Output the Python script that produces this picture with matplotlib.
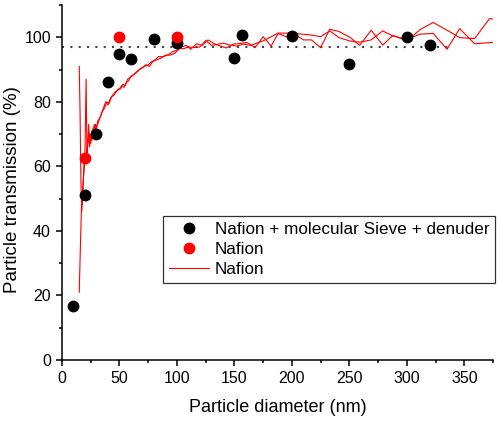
import matplotlib as mpl
mpl.use("Agg")

import matplotlib.pyplot as plt
from matplotlib.ticker import MultipleLocator

plt.rcParams["font.family"] = ["Liberation Sans", "DejaVu Sans"]

# sieve + denuder points (black)
sieve_x = [10, 20, 30, 40, 50, 60, 80, 100, 150, 157, 200, 250, 300, 320]
sieve_y = [16.7, 51.0, 70.0, 86.2, 94.7, 93.2, 99.4, 98.2, 93.7, 100.6, 100.4, 91.8, 100.1, 97.7]

# Nafion only points (red)
nafion_x = [20, 50, 100]
nafion_y = [62.5, 100.2, 100.2]

# Nafion scans (red lines)
scanA_x = [15, 15.7, 16.5, 17.2, 18, 19, 20, 21, 21.7, 22.5,
           23.2, 24, 25, 26, 27, 28, 29, 30, 32, 34,
           36, 38, 40, 42, 44, 46, 48, 50, 52, 54,
           56, 58, 60, 63, 66, 69, 72, 75, 78, 81,
           84, 88, 92, 96, 100, 104, 108, 112, 117, 122,
           127, 132, 137, 143, 149, 155, 161, 168, 175, 182,
           188, 197, 204, 210, 217, 225, 233, 241, 251, 259,
           269, 279, 288, 300, 312, 323, 335, 346, 359, 372, 376]
scanA_y = [91, 77, 55, 46, 50, 60, 65, 87, 63, 68,
           73, 66, 70, 68, 72, 69, 73, 72, 74, 76,
           78, 80, 79, 81, 82, 83, 83.5, 84, 85, 84.5,
           86, 86.5, 88, 88.5, 89.5, 90.5, 91, 91.5, 92.5, 93,
           94, 94, 94.5, 95.5, 96, 97, 97.5, 96.3, 98, 97.5,
           99.2, 98.1, 97.4, 96.7, 97.9, 98.1, 98.4, 96.8, 100.2, 97.3,
           101.2, 99.9, 100.6, 99.2, 99.2, 96.8, 102.5, 101.8, 99.9, 97.5,
           102.2, 97.6, 100.6, 98.9, 102.5, 104.6, 102.2, 99.9, 99.6, 105.8, 105.6]

scanB_x = [15, 16, 17, 18, 19, 20, 21, 22, 23, 24, 25, 26, 27, 28, 29, 30,
           31, 33, 35, 37, 39, 41, 43, 45, 47, 49,
           51, 53, 55, 57, 59, 61, 64, 67, 70, 73,
           76, 79, 82, 86, 90, 94, 98, 102, 106, 110,
           115, 120, 125, 130, 135, 140, 146, 152, 158, 164,
           175, 188, 200, 217, 225, 233, 241, 251, 259, 269,
           279, 288, 300, 312, 323, 335, 346, 359, 377]
scanB_y = [21, 35, 48, 53, 58, 62, 64, 66, 68, 70, 67, 71, 69, 73, 71, 72,
           74, 75, 77, 78, 80, 79.5, 81.5, 82, 83, 84,
           84, 85.5, 85, 87, 87.5, 88, 89, 90, 90.5, 91.5,
           91, 92.5, 93, 93.5, 94.5, 94.5, 95, 96.5, 96.5, 97,
           96.8, 97, 99, 97.5, 97.8, 98.2, 97.6, 97.3, 97.9, 97.5,
           98.9, 101.3, 101.3, 100.7, 100.2, 102, 99.9, 98.8, 98.5, 99.2,
           102, 100.4, 99.4, 101, 101.2, 96.3, 102.7, 98, 98.5]

ref_level = 97
ref_x = [0, 338]

fig = plt.figure(figsize=(5, 4.21), dpi=100)
ax = fig.add_axes([0.124, 0.145, 0.862, 0.843])

ax.plot(ref_x, [ref_level, ref_level], color="#444444", lw=1.5,
        dashes=(1, 3), zorder=1)
ax.plot(scanA_x, scanA_y, color="red", lw=0.8, zorder=2)
ax.plot(scanB_x, scanB_y, color="red", lw=0.8, zorder=2, label="Nafion")
ax.plot(sieve_x, sieve_y, "o", color="black", ms=7.5, ls="none", zorder=3,
        label="Nafion + molecular Sieve + denuder")
ax.plot(nafion_x, nafion_y, "o", color="red", ms=7.5, ls="none", zorder=4,
        label="Nafion")

ax.set_xlim(0, 375)
ax.set_ylim(0, 110)
ax.xaxis.set_major_locator(MultipleLocator(50))
ax.xaxis.set_minor_locator(MultipleLocator(25))
ax.yaxis.set_major_locator(MultipleLocator(20))
ax.yaxis.set_minor_locator(MultipleLocator(10))
ax.tick_params(which="both", direction="out", labelsize=11.5, width=1.1)
ax.tick_params(which="major", length=4.5)
ax.tick_params(which="minor", length=2.5)
for s in ["top", "right"]:
    ax.spines[s].set_visible(False)
for s in ["left", "bottom"]:
    ax.spines[s].set_linewidth(1.1)

ax.set_xlabel("Particle diameter (nm)", fontsize=13, labelpad=9)
ax.set_ylabel("Particle transmission (%)", fontsize=13.5)
ax.yaxis.set_label_coords(-0.094, 0.479)

h, l = ax.get_legend_handles_labels()
order = [1, 2, 0]
leg = ax.legend([h[i] for i in order], [l[i] for i in order],
                loc="upper right", bbox_to_anchor=(1.005, 0.405),
                fontsize=12.3, frameon=True, fancybox=False, framealpha=1,
                edgecolor="#333333", handlelength=2.3, borderpad=0.35,
                labelspacing=0.3, handletextpad=0.35, borderaxespad=0)
leg.get_frame().set_linewidth(0.9)

plt.savefig("out.png", dpi=100)
